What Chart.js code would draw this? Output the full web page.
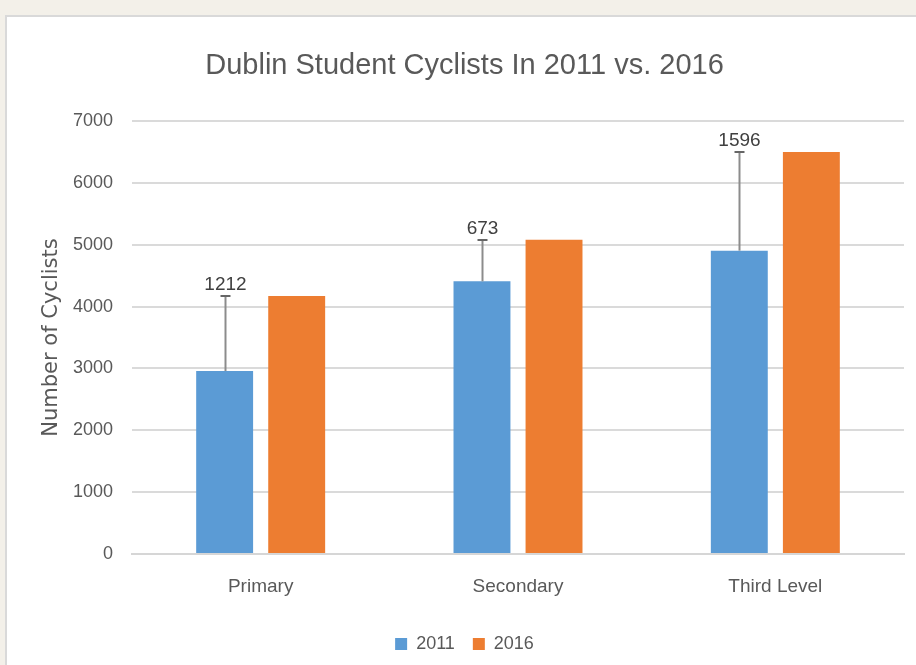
<!DOCTYPE html>
<html>
<head>
<meta charset="utf-8">
<script src="https://cdn.jsdelivr.net/npm/chart.js@4/dist/chart.umd.min.js"></script>
<style>
  html, body { margin: 0; padding: 0; background: #f3f0e9; overflow: hidden; }
  #panel {
    position: absolute; left: 5px; top: 15px; width: 1000px; height: 1000px;
    background: #ffffff; border: 2px solid #d9d9d9;
  }
  #wrap { position: absolute; left: 0; top: 0; width: 916px; height: 665px; }
</style>
</head>
<body>
<div id="panel"></div>
<div id="wrap"><canvas id="chart" width="916" height="665"></canvas></div>
<script>
// chart values
const categories = ['Primary', 'Secondary', 'Third Level'];
const seriesNames = ['2011', '2016'];
const cyclists2011 = [2958, 4408, 4904];
const cyclists2016 = [4170, 5081, 6500];
const increase = [1212, 673, 1596]; // error bar (plus) on the 2011 bars
const yTicks = [0, 1000, 2000, 3000, 4000, 5000, 6000, 7000];

const SANS = "'Liberation Sans', Arial, sans-serif";
const TEXT_GREY = '#595959';

/**
 * Draws the plus-only error bars with their value labels on the 2011 bars
 */
const errorBarPlugin = {
  id: 'errorBars',
  afterDatasetsDraw(chart) {
    const ctx = chart.ctx;
    const meta = chart.getDatasetMeta(0);
    const yScale = chart.scales.y;

    ctx.save();
    meta.data.forEach((bar, i) => {
      const top = Math.round(yScale.getPixelForValue(cyclists2011[i] + increase[i]));
      const x = Math.round(bar.x) + 0.5;

      ctx.strokeStyle = '#8c8c8c';
      ctx.lineWidth = 2;
      ctx.beginPath();
      ctx.moveTo(x, bar.y);
      ctx.lineTo(x, top);
      ctx.stroke();

      // cap
      ctx.strokeStyle = '#666666';
      ctx.beginPath();
      ctx.moveTo(x - 5, top);
      ctx.lineTo(x + 5, top);
      ctx.stroke();

      ctx.fillStyle = '#404040';
      ctx.font = '19px ' + SANS;
      ctx.textAlign = 'center';
      ctx.textBaseline = 'alphabetic';
      ctx.fillText(String(increase[i]), x, top - 6);
    });
    ctx.restore();
  }
};

const ctx = document.getElementById('chart').getContext('2d');

new Chart(ctx, {
  type: 'bar',
  data: {
    labels: categories,
    datasets: [
      {
        label: seriesNames[0],
        data: cyclists2011,
        backgroundColor: '#5b9bd5',
        barPercentage: 0.79,
        categoryPercentage: 0.56
      },
      {
        label: seriesNames[1],
        data: cyclists2016,
        backgroundColor: '#ed7d31',
        barPercentage: 0.79,
        categoryPercentage: 0.56
      }
    ]
  },
  options: {
    responsive: false,
    animation: false,
    layout: {
      padding: { top: 18, left: 25, right: 12, bottom: 2 }
    },
    scales: {
      y: {
        min: 0,
        max: 7000,
        afterBuildTicks: (scale) => {
          scale.ticks = yTicks.map((v) => ({ value: v }));
        },
        afterFit: (scale) => {
          scale.width = 107;
        },
        grid: {
          color: '#dadada',
          lineWidth: 2,
          drawTicks: false
        },
        border: { display: false },
        ticks: {
          padding: 19,
          color: TEXT_GREY,
          font: { family: SANS, size: 18 },
          callback: (value) => String(value)
        },
        title: {
          display: true,
          text: 'Number of Cyclists',
          color: TEXT_GREY,
          padding: { top: 14, bottom: 0 },
          font: { family: "'DejaVu Sans', sans-serif", size: 21 }
        }
      },
      x: {
        grid: { display: false, drawTicks: false },
        border: { color: '#d6d6d6', width: 2 },
        afterFit: (scale) => {
          scale.height = 63;
        },
        ticks: {
          padding: 21,
          color: TEXT_GREY,
          font: { family: SANS, size: 19 }
        }
      }
    },
    plugins: {
      title: {
        display: true,
        text: 'Dublin Student Cyclists In 2011 vs. 2016',
        color: TEXT_GREY,
        font: { family: SANS, size: 29, weight: 'normal' },
        padding: { top: 30.5, bottom: 37.7 }
      },
      legend: {
        position: 'bottom',
        labels: {
          boxWidth: 12,
          boxHeight: 12,
          padding: 18,
          color: TEXT_GREY,
          font: { family: SANS, size: 18 }
        }
      },
      tooltip: { enabled: false }
    }
  },
  plugins: [errorBarPlugin]
});
</script>
</body>
</html>
